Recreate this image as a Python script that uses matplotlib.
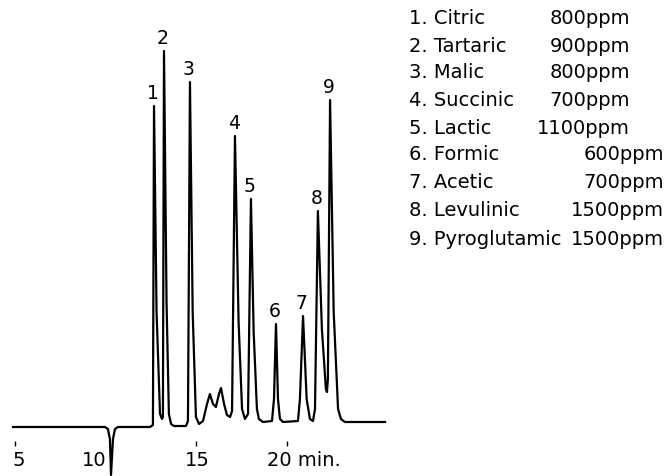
import matplotlib
matplotlib.use("Agg")
import matplotlib.pyplot as plt

plt.rcParams['font.family'] = ['DejaVu Sans']

# detector trace (time in min, response in arbitrary units)
trace_t = [4.89, 9.96, 10.12, 10.23, 10.29, 10.40, 10.51, 10.67, 12.44, 12.60,
           12.66, 12.80, 12.99, 13.10, 13.15, 13.21, 13.35, 13.48, 13.60, 13.76,
           14.42, 14.53, 14.64, 14.79, 14.97, 15.14, 15.36, 15.58, 15.74, 15.91,
           16.07, 16.24, 16.35, 16.52, 16.68, 16.85, 16.96, 17.12, 17.32, 17.51,
           17.67, 17.84, 18.00, 18.15, 18.33, 18.44, 18.66, 19.16, 19.27, 19.38,
           19.49, 19.60, 19.77, 20.59, 20.70, 20.87, 21.07, 21.25, 21.42, 21.53,
           21.69, 21.91, 22.13, 22.19, 22.24, 22.36, 22.56, 22.80, 22.96, 23.18,
           25.39]
trace_y = [-5, -5, -7, -17, -53, -17, -7, -5, -5, -3,
           316, 110, 8, 3, 5, 371, 120, 8, -2, -4,
           -4, 1, 340, 110, 5, -2, 1, 18, 28, 18,
           15, 28, 34, 18, 7, 5, 11, 286, 100, 13,
           3, 8, 223, 90, 13, 3, 0, 1, 23, 98,
           23, 3, 0, 1, 23, 106, 23, 3, 1, 13,
           211, 93, 33, 30, 43, 322, 110, 13, 3, 0,
           0]

# numbered peaks
peak_t = [12.66, 13.21, 14.64, 17.12, 18.00, 19.38, 20.87, 21.69, 22.36]
peak_y = [316, 371, 340, 286, 223, 98, 106, 211, 322]

acids = ['Citric', 'Tartaric', 'Malic', 'Succinic', 'Lactic',
         'Formic', 'Acetic', 'Levulinic', 'Pyroglutamic']
conc = ['800ppm', '900ppm', '800ppm', '700ppm', '1100ppm',
        '600ppm', '700ppm', '1500ppm', '1500ppm']

tick_t = [5, 15, 20]

W, H = 668, 477
fig = plt.figure(figsize=(W / 100, H / 100), dpi=100)
ax = fig.add_axes([0, 0, 1, 1])
ax.set_xlim(4.174, 40.98)
ax.set_ylim(-54, 423)
ax.axis('off')

ax.plot(trace_t, trace_y, color='black', lw=1.6, solid_joinstyle='round',
        clip_on=False)

for i, (t, y) in enumerate(zip(peak_t, peak_y)):
    ax.annotate(str(i + 1), (t, y), xytext=(-1, 3), textcoords='offset points',
                ha='center', va='bottom', fontsize=13.5)

# time axis: little tick marks with labels underneath
ax.vlines(tick_t, -24, -19, color='black', lw=1.0)
ax.text(5.2, -38, '5', ha='center', va='center', fontsize=14)
ax.text(9.35, -38, '10', ha='center', va='center', fontsize=14)
ax.text(15.05, -38, '15', ha='center', va='center', fontsize=14)
ax.text(18.9, -38, '20 min.', ha='left', va='center', fontsize=14)

# compound list on the right
row_y = [18, 46, 73, 100, 128, 155, 183, 211, 240]
conc_right = [630, 630, 630, 630, 630, 664, 664, 664, 664]
for i in range(len(acids)):
    fy = 1 - row_y[i] / H
    fig.text(409 / W, fy, '%d. %s' % (i + 1, acids[i]), ha='left', va='center',
             fontsize=14)
    fig.text(conc_right[i] / W, fy, conc[i], ha='right', va='center', fontsize=14)

fig.savefig('out.png', dpi=100, facecolor='white')
